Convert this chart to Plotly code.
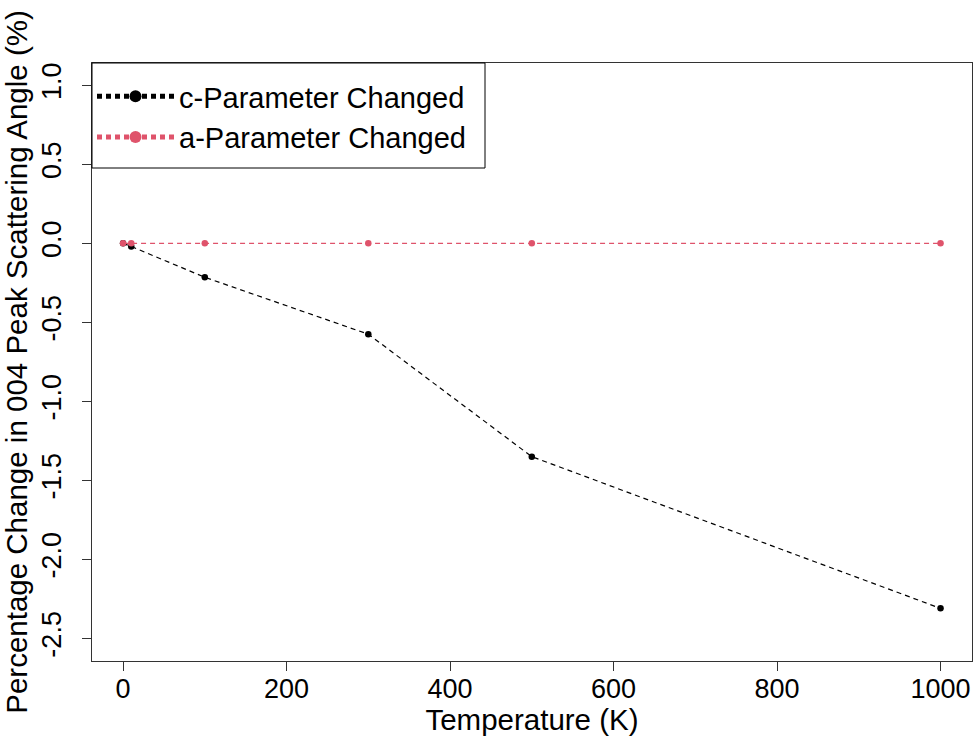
import plotly.graph_objects as go

temperature = [0, 10, 100, 300, 500, 1000]
c_param_change = [0.0, -0.02, -0.215, -0.575, -1.35, -2.31]
a_param_change = [0.0, 0.0, 0.0, 0.0, 0.0, 0.0]

x_ticks = [0, 200, 400, 600, 800, 1000]
y_ticks = [-2.5, -2.0, -1.5, -1.0, -0.5, 0.0, 0.5, 1.0]
y_tick_text = ["-2.5", "-2.0", "-1.5", "-1.0", "-0.5", "0.0", "0.5", "1.0"]

FONT = "Liberation Sans, Arial, sans-serif"
PINK = "#DF536B"
TICK_SIZE = 27
TITLE_SIZE = 29.5
LEGEND_SIZE = 29

fig = go.Figure()
fig.add_trace(go.Scatter(
    x=temperature, y=c_param_change, mode="lines+markers",
    name="c-Parameter Changed",
    line=dict(color="black", width=1.2, dash="5px,4px"),
    marker=dict(color="black", size=6.5),
))
fig.add_trace(go.Scatter(
    x=temperature, y=a_param_change, mode="lines+markers",
    name="a-Parameter Changed",
    line=dict(color=PINK, width=1.2, dash="5px,4px"),
    marker=dict(color=PINK, size=6.5),
))

axis_common = dict(
    showgrid=False, zeroline=False, showline=True, linecolor="#333333",
    linewidth=1, mirror=True, ticks="outside", ticklen=9, tickcolor="#333333",
    tickfont=dict(family=FONT, size=TICK_SIZE, color="black"),
)

# legend box outline (R-style legend frame)
fig.add_shape(type="rect", xref="paper", yref="paper",
              x0=0, x1=(485 - 92) / 880, y0=(661 - 168) / 598, y1=1,
              line=dict(color="black", width=1), fillcolor="rgba(0,0,0,0)")

fig.update_layout(
    width=974, height=736,
    margin=dict(l=92, r=2, t=63, b=75),
    paper_bgcolor="white", plot_bgcolor="white",
    font=dict(family=FONT, size=TITLE_SIZE, color="black"),
    xaxis=dict(
        range=[-38, 1038.5], tickvals=x_ticks,
        ticklabelstandoff=-5,
        title=dict(text="Temperature (K)", font=dict(family=FONT, size=TITLE_SIZE), standoff=0),
        **axis_common,
    ),
    yaxis=dict(
        range=[-2.643, 1.141], tickvals=y_ticks, ticktext=y_tick_text,
        tickangle=-90, ticklabelstandoff=10,
        title=dict(text="Percentage Change in 004 Peak Scattering Angle (%)",
                   font=dict(family=FONT, size=TITLE_SIZE), standoff=0),
        **axis_common,
    ),
    legend=dict(
        x=0.0, y=(661 - 117) / 598, xanchor="left", yanchor="middle",
        borderwidth=0, bgcolor="rgba(0,0,0,0)",
        font=dict(family=FONT, size=LEGEND_SIZE, color="black"),
        tracegroupgap=0, itemsizing="constant", itemwidth=77,
    ),
)

fig.write_html("out.html")
